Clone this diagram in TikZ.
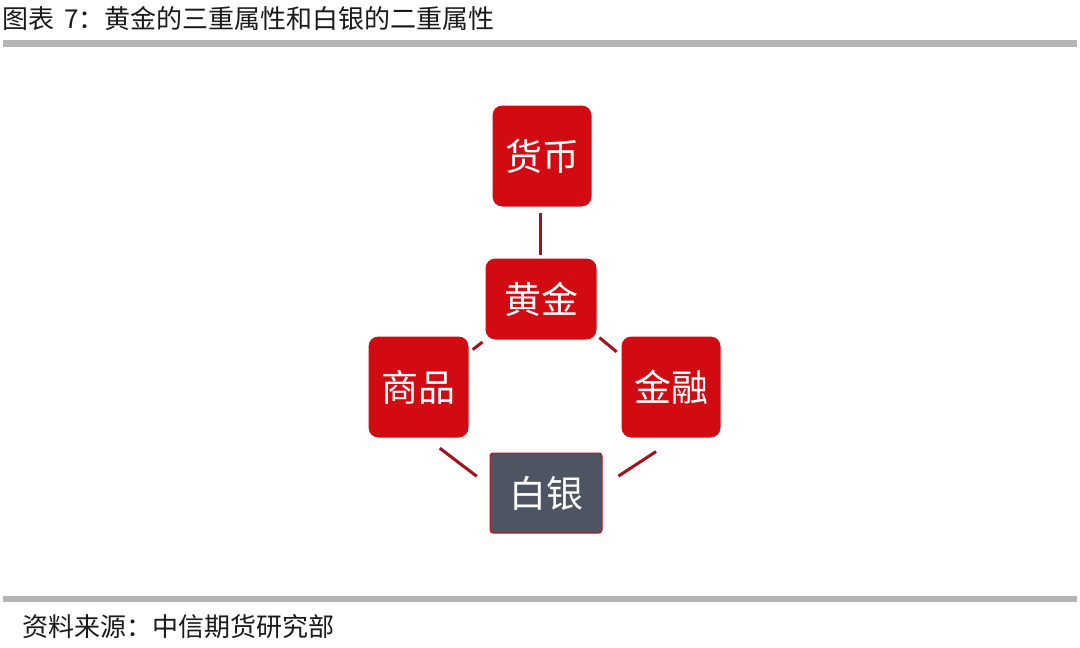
\documentclass[tikz,border=0pt]{standalone}
\usepackage{fontspec}
\newfontfamily\cjk{Noto Sans CJK SC}
\definecolor{boxred}{HTML}{D20A11}
\definecolor{connred}{HTML}{A3121C}
\definecolor{silvergray}{HTML}{4D5562}
\definecolor{bargray}{HTML}{B4B4B4}
\definecolor{textdark}{HTML}{1A1A1A}
\begin{document}
\begin{tikzpicture}[x=1pt,y=-1pt,
  box/.style={rectangle, rounded corners=10pt, fill=boxred, draw=white, line width=1pt,
    text=white, font=\cjk\fontsize{37}{37}\selectfont, inner sep=0pt},
  silverbox/.style={box, fill=silvergray, draw=boxred, rounded corners=3pt},
  conn/.style={draw=connred, line width=3pt},
  caption/.style={anchor=west, inner sep=0pt, text=textdark, font=\cjk\fontsize{26}{26}\selectfont},
  rulebar/.style={fill=bargray}]
\useasboundingbox (0,0) rectangle (1080,648);
\fill[white] (0,0) rectangle (1080,648);
% title and rules
\node[caption] (title) at (2,19) {图表\hspace{10pt}7：黄金的三重属性和白银的二重属性};
\fill[rulebar] (3,40) rectangle (1077,47);
\fill[rulebar] (3,596) rectangle (1077,602);
\node[caption] (source) at (22,627) {资料来源：中信期货研究部};
% boxes
\node[box, minimum width=100pt, minimum height=102pt] (hb) at (542,156) {货币};
\node[box, minimum width=112pt, minimum height=82pt] (hj) at (541,299) {黄金};
\node[box, minimum width=101pt, minimum height=102pt] (sp) at (418.5,387) {商品};
\node[box, minimum width=100pt, minimum height=102pt] (jr) at (671,387) {金融};
\node[silverbox, minimum width=112pt, minimum height=80pt] (by) at (546,493) {白银};
% connectors
\draw[conn, shorten <=5pt, shorten >=3pt] ([xshift=-2pt]hb.south) -- ([xshift=-1pt]hj.north);
\draw[conn, shorten <=4pt, shorten >=2.5pt] ([yshift=35pt]sp.east) -- (hj.south west);
\draw[conn, shorten <=2.5pt, shorten >=5pt] ([yshift=-37pt]hj.east) -- ([yshift=32pt]jr.west);
\draw[conn, shorten <=16pt, shorten >=16pt] ([xshift=8.5pt]sp.south) -- ([yshift=7pt]by.west);
\draw[conn, shorten <=23.8pt, shorten >=19pt] ([xshift=5pt]jr.south) -- ([yshift=6.5pt]by.east);
\end{tikzpicture}
\end{document}
